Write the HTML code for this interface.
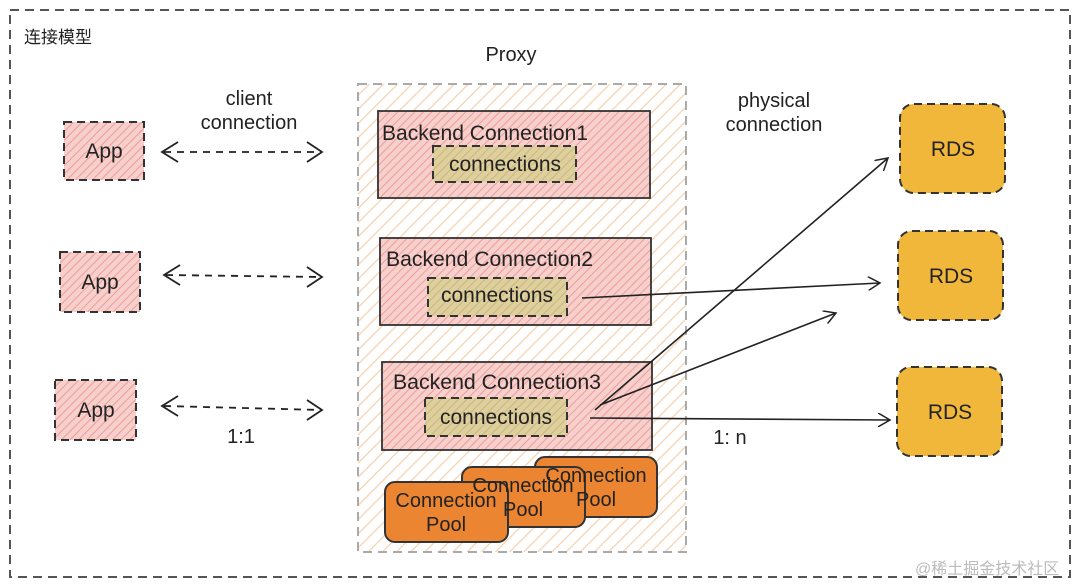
<!DOCTYPE html>
<html><head><meta charset="utf-8"><style>body{margin:0;background:#fff}svg{display:block}text{font-family:"Liberation Sans","Noto Sans CJK SC",sans-serif;fill:#222}</style></head><body>
<svg width="1080" height="585" viewBox="0 0 1080 585" xmlns="http://www.w3.org/2000/svg">
<defs>
<pattern id="hp" width="10" height="10" patternUnits="userSpaceOnUse" patternTransform="rotate(45)"><rect width="10" height="10" fill="#fff"/><line x1="0" y1="0" x2="0" y2="10" stroke="#f6d2b0" stroke-width="2.5"/></pattern>
<pattern id="hr" width="6" height="6" patternUnits="userSpaceOnUse" patternTransform="rotate(45)"><rect width="6" height="6" fill="#f7d0cc"/><line x1="0" y1="0" x2="0" y2="6" stroke="#ec9c9c" stroke-width="2"/></pattern>
<pattern id="hg" width="6" height="6" patternUnits="userSpaceOnUse" patternTransform="rotate(45)"><rect width="6" height="6" fill="#e0cf9e"/><line x1="0" y1="0" x2="0" y2="6" stroke="#c5b978" stroke-width="2"/></pattern>
<marker id="ah" markerWidth="14" markerHeight="14" refX="12" refY="7" orient="auto" markerUnits="userSpaceOnUse"><path d="M0,0 L12,7 L0,14" fill="none" stroke="#222" stroke-width="1.5"/></marker>
</defs>
<rect x="10" y="10" width="1060" height="567" fill="none" stroke="#555" stroke-width="2" stroke-dasharray="9,6"/>
<text x="24" y="43" font-size="17">连接模型</text>
<text x="511" y="61" font-size="20" text-anchor="middle">Proxy</text>
<rect x="358" y="84" width="328" height="468" fill="url(#hp)" stroke="#aaa" stroke-width="2" stroke-dasharray="9,6"/>
<g stroke="#333" stroke-width="1.8">
<rect x="378" y="111" width="272" height="87" fill="url(#hr)"/>
<rect x="380" y="238" width="271" height="87" fill="url(#hr)"/>
<rect x="382" y="362" width="270" height="88" fill="url(#hr)"/>
</g>
<g stroke="#333" stroke-width="2" stroke-dasharray="8,5">
<rect x="433" y="146" width="143" height="36" fill="url(#hg)"/>
<rect x="428" y="278" width="139" height="38" fill="url(#hg)"/>
<rect x="425" y="398" width="142" height="38" fill="url(#hg)"/>
</g>
<g font-size="21">
<text x="382" y="140" textLength="206" lengthAdjust="spacingAndGlyphs">Backend Connection1</text>
<text x="386" y="266" textLength="207" lengthAdjust="spacingAndGlyphs">Backend Connection2</text>
<text x="393" y="389" textLength="208" lengthAdjust="spacingAndGlyphs">Backend Connection3</text>
<text x="449" y="171" textLength="112" lengthAdjust="spacingAndGlyphs">connections</text>
<text x="441" y="302" textLength="112" lengthAdjust="spacingAndGlyphs">connections</text>
<text x="440" y="424" textLength="112" lengthAdjust="spacingAndGlyphs">connections</text>
</g>
<g stroke="#333" stroke-width="2" fill="#ec8531">
<rect x="535" y="457" width="122" height="60" rx="10"/>
<rect x="462" y="467" width="123" height="60" rx="10"/>
<rect x="385" y="482" width="123" height="60" rx="10"/>
</g>
<g font-size="20" text-anchor="middle">
<text x="596" y="482">Connection</text><text x="596" y="506">Pool</text>
<text x="523" y="492">Connection</text><text x="523" y="516">Pool</text>
<text x="446" y="507">Connection</text><text x="446" y="531">Pool</text>
</g>
<g stroke="#333" stroke-width="2" stroke-dasharray="8,5" fill="#f0b73b">
<rect x="900" y="104" width="105" height="89" rx="14"/>
<rect x="898" y="231" width="105" height="89" rx="14"/>
<rect x="897" y="367" width="105" height="89" rx="14"/>
</g>
<g font-size="21" text-anchor="middle">
<text x="953" y="156">RDS</text><text x="951" y="283">RDS</text><text x="950" y="419">RDS</text>
</g>
<g stroke="#333" stroke-width="2" stroke-dasharray="8,5" fill="url(#hr)">
<rect x="64" y="122" width="80" height="58"/>
<rect x="60" y="252" width="80" height="60"/>
<rect x="55" y="380" width="81" height="60"/>
</g>
<g font-size="21" text-anchor="middle">
<text x="104" y="158">App</text><text x="100" y="289">App</text><text x="96" y="417">App</text>
</g>
<g stroke="#222" stroke-width="1.8" stroke-dasharray="7,6" fill="none">
<line x1="164" y1="152" x2="322" y2="152"/>
<line x1="166" y1="275" x2="322" y2="277"/>
<line x1="164" y1="406" x2="322" y2="410"/>
</g>
<g stroke="#222" stroke-width="1.8" fill="none">
<path d="M178,142 L162,152 L178,162"/><path d="M307,142 L322,152 L307,162"/>
<path d="M180,265 L164,275 L180,285"/><path d="M307,267 L322,277 L307,287"/>
<path d="M178,396 L162,406 L178,416"/><path d="M307,400 L322,410 L307,420"/>
</g>
<g font-size="20" text-anchor="middle">
<text x="249" y="105">client</text><text x="249" y="129">connection</text>
<text x="241" y="443">1:1</text>
<text x="774" y="107">physical</text><text x="774" y="131">connection</text>
<text x="730" y="444">1:  n</text>
</g>
<g stroke="#222" stroke-width="1.6" fill="none" marker-end="url(#ah)">
<line x1="595" y1="410" x2="888" y2="158"/>
<line x1="582" y1="298" x2="880" y2="283"/>
<line x1="600" y1="405" x2="836" y2="313"/>
<line x1="590" y1="418" x2="890" y2="420"/>
</g>
<text x="915" y="574" font-size="16" style="fill:#bbb">@稀土掘金技术社区</text>
</svg>
</body></html>
